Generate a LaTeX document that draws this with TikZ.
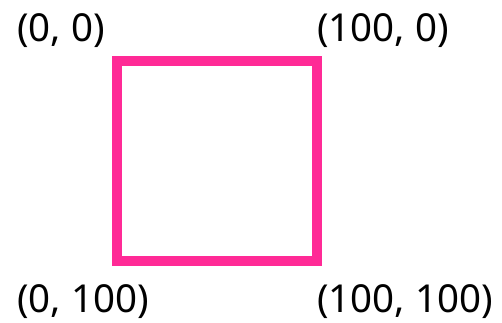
\documentclass[tikz,border=0pt]{standalone}
\usepackage{fontspec}
\setmainfont{Noto Sans}
\definecolor{hotpink}{RGB}{255,42,150}
\begin{document}
\begin{tikzpicture}[x=1pt,y=-1pt,
  lbl/.style={anchor=base west,inner sep=0pt,font=\fontsize{38.5}{44}\selectfont},
  sq/.style={draw=hotpink,line width=10pt}]
\useasboundingbox (0,0) rectangle (502,323);
\coordinate (tl) at (117,61.5);
\coordinate (br) at (317,261);
\draw[sq] (tl) rectangle (br);
\node[lbl] (a) at (17,42) {(0, 0)};
\node[lbl] (b) at (317,42) {(100, 0)};
\node[lbl] (c) at (17,312) {(0, 100)};
\node[lbl] (d) at (317,312) {(100, 100)};
\end{tikzpicture}
\end{document}
